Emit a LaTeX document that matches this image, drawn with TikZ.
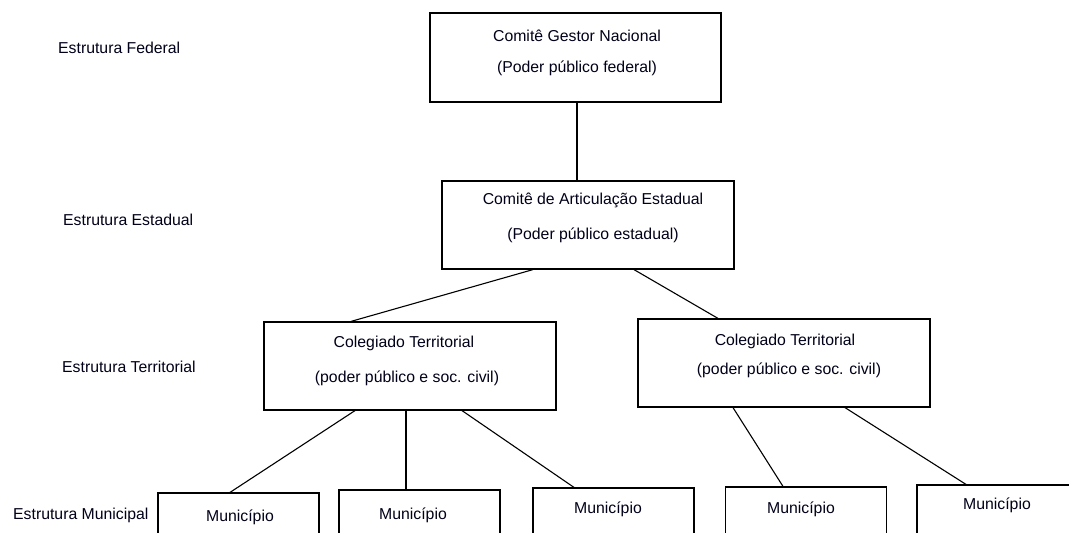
\documentclass[tikz,border=0pt]{standalone}
\usepackage{fontspec}
\setmainfont{Liberation Sans}
\begin{document}
\begin{tikzpicture}[x=1pt,y=-1pt,
  box/.style={draw=black,line width=1.2pt,rectangle,inner sep=0pt,minimum width=292pt,minimum height=88pt},
  mbox/.style={draw=black,line width=1.2pt,rectangle,inner sep=0pt,minimum width=161pt,minimum height=52pt},
  txt/.style={inner sep=0pt,font=\fontsize{15.8}{19}\selectfont,text=black!90!blue},
  conn/.style={draw=black,line width=1.1pt}]
\useasboundingbox (0,0) rectangle (1069,533);
\clip (0,0) rectangle (1069,533);
\fill[white] (0,0) rectangle (1069,533);
% left labels
\node[txt,anchor=west] (lf) at (58,48) {Estrutura Federal};
\node[txt,anchor=west] (le) at (63,220) {Estrutura Estadual};
\node[txt,anchor=west] (lt) at (62,367) {Estrutura Territorial};
\node[txt,anchor=west] (lm) at (13,515) {Estrutura Municipal};
% boxes
\node[box,minimum width=291pt,minimum height=89pt] (b1) at (575.5,57.5) {};
\node[box] (b2) at (588,225) {};
\node[box] (b3) at (410,366) {};
\node[box] (b4) at (784,363) {};
\node[mbox] (m1) at (238.5,519) {};
\node[mbox] (m2) at (419.5,516) {};
\node[mbox] (m3) at (613.5,514) {};
\node[mbox] (m4) at (806,513) {};
\node[mbox] (m5) at (997.5,511) {};
% box texts
\node[txt] (t1a) at (577,36) {Comitê Gestor Nacional};
\node[txt] (t1b) at (577,68) {(Poder público federal)};
\node[txt] (t2a) at (593,200) {Comitê de Articulação Estadual};
\node[txt] (t2b) at (593,235) {(Poder público estadual)};
\node[txt] (t3a) at (404,343) {Colegiado Territorial};
\node[txt] (t3b) at (407,378) {(poder público e soc. civil)};
\node[txt] (t4a) at (785,341) {Colegiado Territorial};
\node[txt] (t4b) at (789,370) {(poder público e soc. civil)};
\node[txt] (tm1) at (240,517) {Município};
\node[txt] (tm2) at (413,515) {Município};
\node[txt] (tm3) at (608,509) {Município};
\node[txt] (tm4) at (801,509) {Município};
\node[txt] (tm5) at (997,505) {Município};
% connectors
\draw[conn] ([xshift=1.5pt]b1.south) -- ([xshift=-11pt]b2.north);
\draw[conn] ([xshift=-55pt]b2.south) -- ([xshift=-59pt]b3.north);
\draw[conn] ([xshift=46pt]b2.south) -- ([xshift=-66pt]b4.north);
\draw[conn] ([xshift=-55pt]b3.south) -- ([xshift=-8.5pt]m1.north);
\draw[conn] ([xshift=-4pt]b3.south) -- ([xshift=-13.5pt]m2.north);
\draw[conn] ([xshift=52pt]b3.south) -- ([xshift=-39.5pt]m3.north);
\draw[conn] ([xshift=-51pt]b4.south) -- ([xshift=-23pt]m4.north);
\draw[conn] ([xshift=61pt]b4.south) -- ([xshift=-31.5pt]m5.north);
\end{tikzpicture}
\end{document}
